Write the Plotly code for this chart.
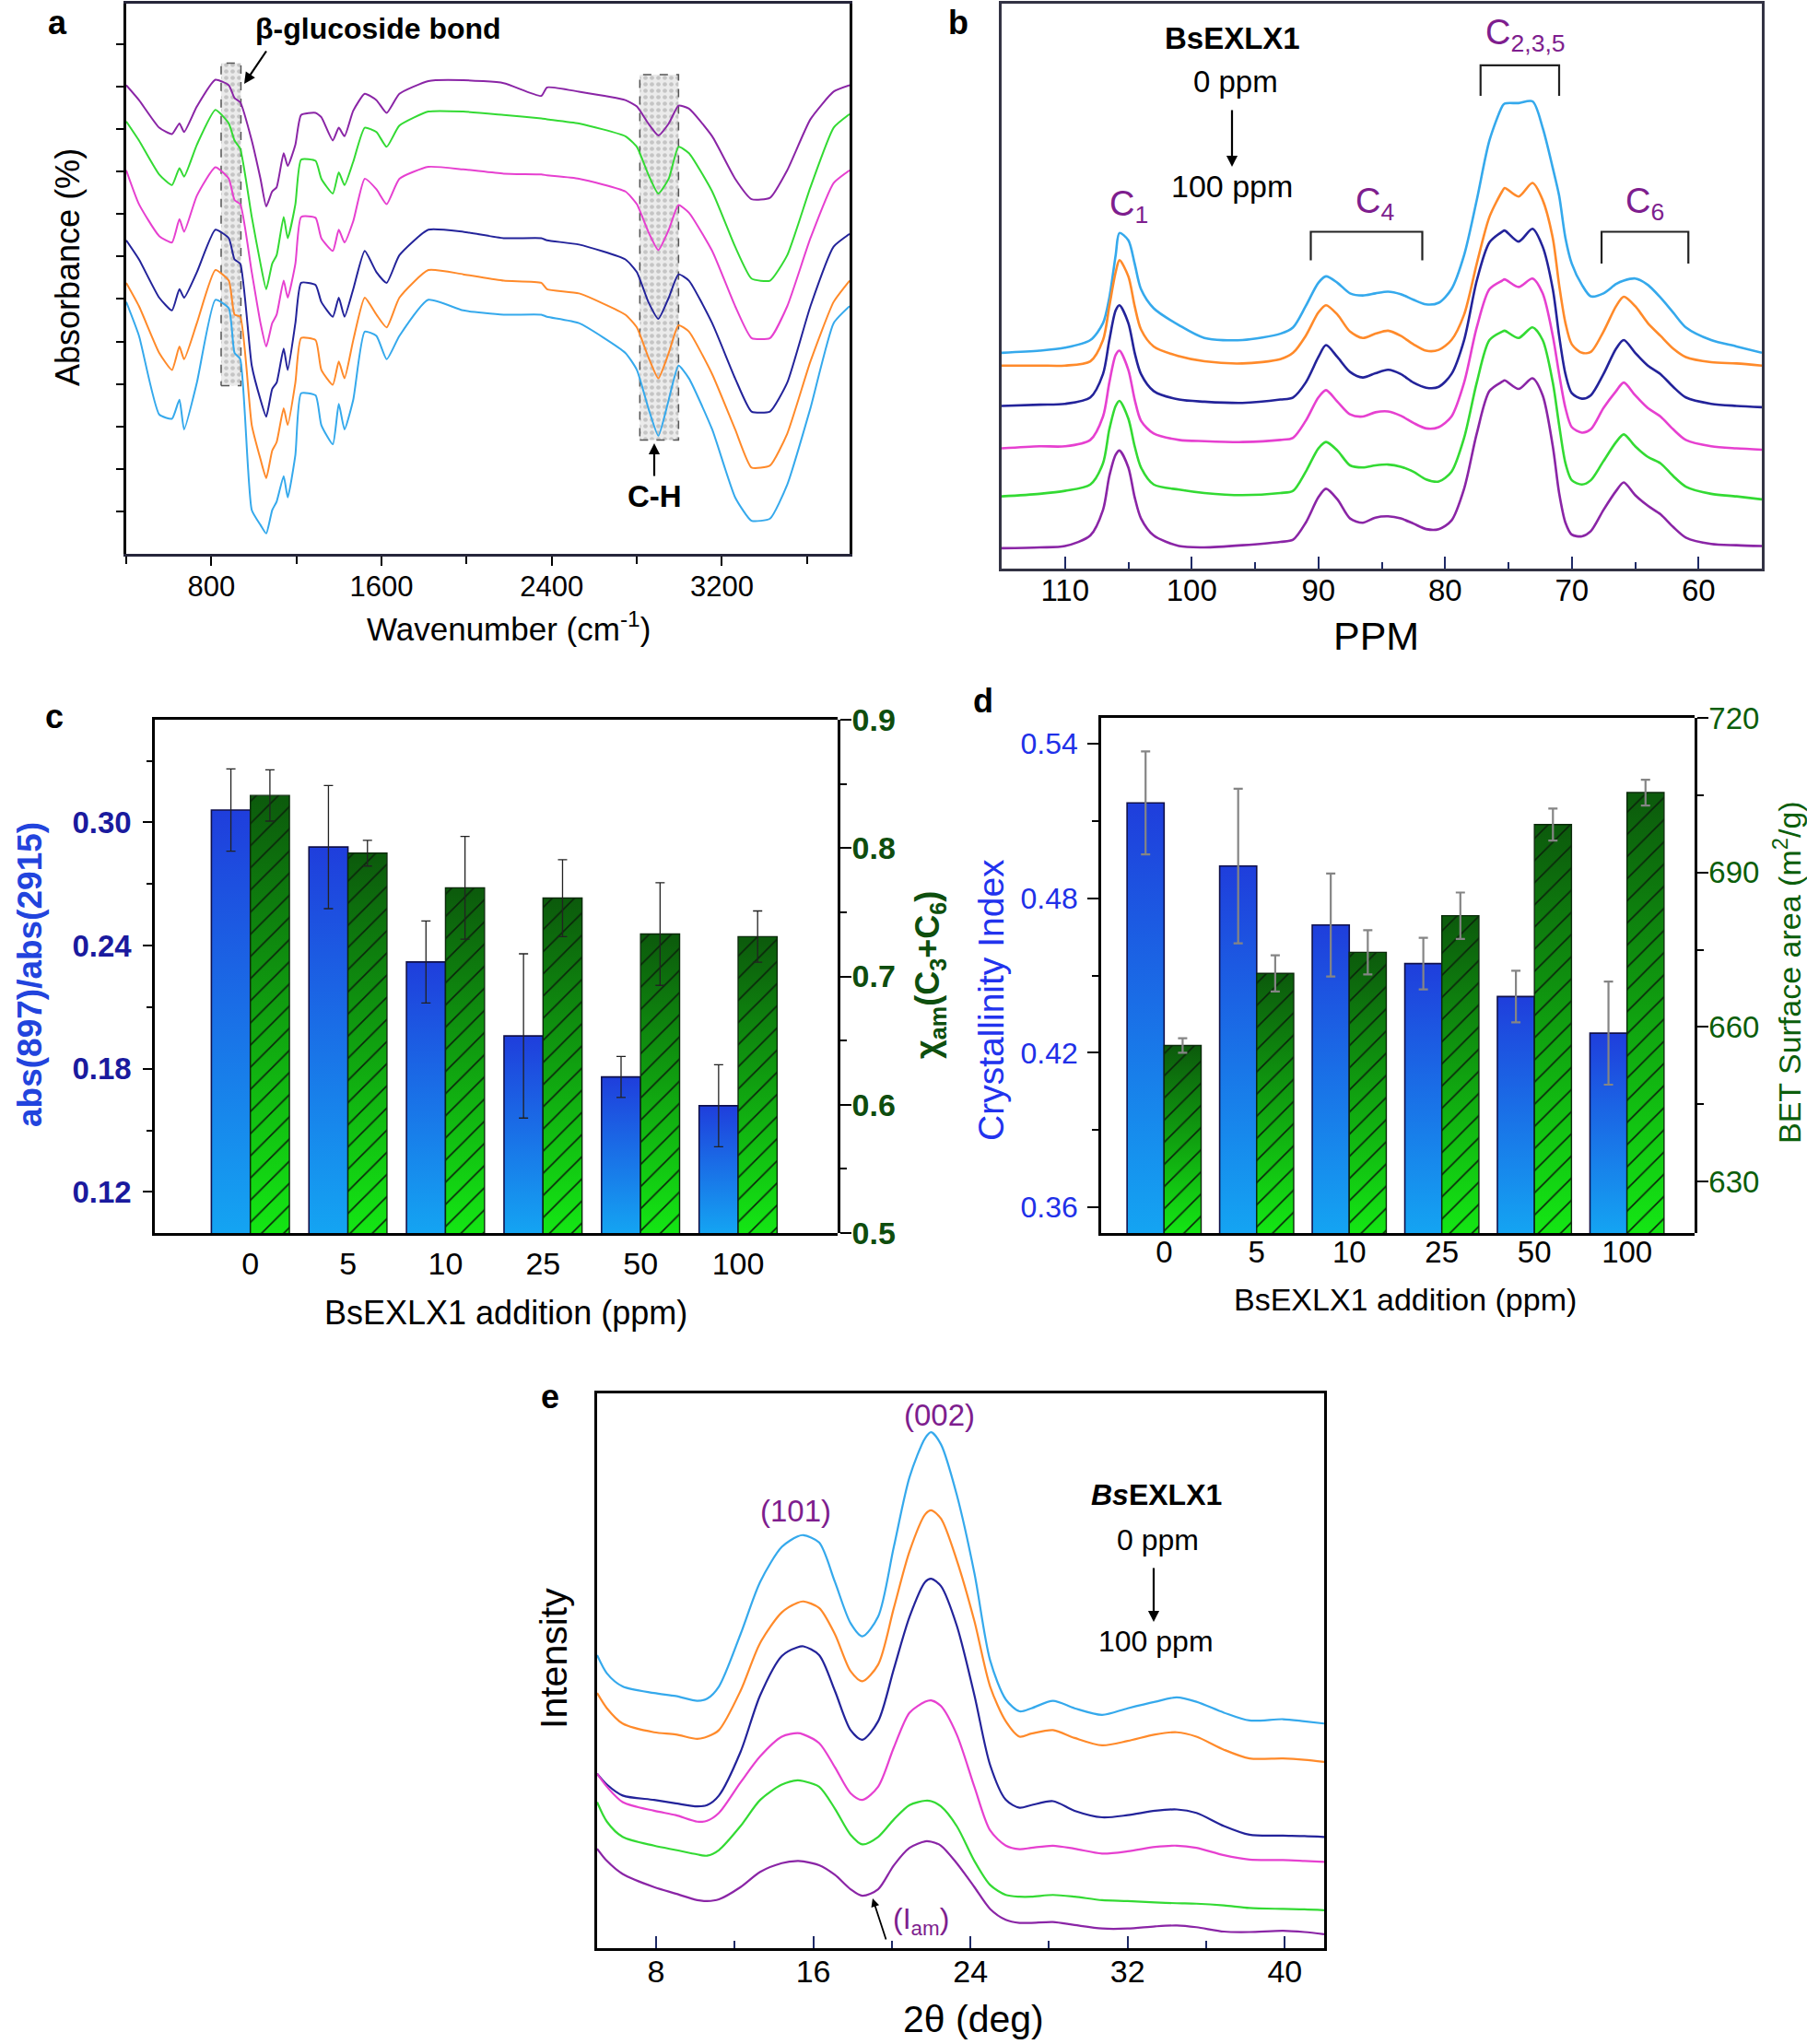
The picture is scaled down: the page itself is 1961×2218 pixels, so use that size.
import base64
import plotly.graph_objects as go

W, H = 1961, 2218
FONT = "Liberation Sans, Arial, Helvetica, sans-serif"

# ---------------- colours per BsEXLX1 dose ----------------
C_0 = "#35A9EC"    # 0 ppm  (light blue)
C_5 = "#FF8A2A"    # 5 ppm  (orange)
C_10 = "#23239A"   # 10 ppm (navy)
C_25 = "#E640D0"   # 25 ppm (magenta)
C_50 = "#33DA33"   # 50 ppm (green)
C_100 = "#8A25A6"  # 100 ppm (purple)
LABEL_PURPLE = "#7E1E8E"

# ---------------- panel a : FTIR ----------------
ftir_wn = [400, 460, 555, 615, 650, 672, 732, 819, 882, 909, 936, 990, 1031, 1058, 1086, 1107, 1140,
           1159, 1195, 1222, 1290, 1317, 1371, 1399, 1426, 1467, 1521, 1576, 1624, 1684, 1820, 1984,
           2174, 2351, 2378, 2528, 2746, 2800, 2854, 2901, 2950, 2996, 3045, 3154, 3262, 3339, 3426,
           3507, 3616, 3725, 3800]
ftir_100 = [11.03, 10.68, 10.03, 9.88, 10.13, 9.93, 10.53, 11.16, 11.03, 10.73, 10.63, 9.73, 8.83, 8.18,
            8.53, 8.63, 9.43, 9.13, 9.63, 10.33, 10.38, 10.28, 9.73, 10.03, 9.83, 10.43, 10.83, 10.68,
            10.38, 10.83, 11.13, 11.15, 11.08, 10.78, 10.98, 10.88, 10.68, 10.53, 10.13, 9.85, 10.13,
            10.55, 10.48, 9.83, 8.83, 8.35, 8.38, 9.03, 10.23, 10.88, 11.03]
ftir_50 = [10.18, 9.73, 8.93, 8.68, 9.08, 8.88, 9.63, 10.45, 10.13, 9.73, 9.53, 7.93, 6.83, 6.23, 6.83,
           7.03, 7.93, 7.43, 8.23, 9.28, 9.25, 8.83, 8.48, 8.98, 8.68, 9.23, 10.03, 9.93, 9.58, 10.08,
           10.41, 10.41, 10.33, 10.25, 10.23, 10.13, 9.83, 9.58, 8.93, 8.48, 8.83, 9.58, 9.43, 8.53,
           7.23, 6.48, 6.43, 7.03, 8.63, 10.03, 10.35]
ftir_25 = [9.03, 8.23, 7.48, 7.33, 7.88, 7.58, 8.43, 9.10, 8.83, 8.33, 8.23, 6.63, 5.43, 4.88, 5.43,
           5.63, 6.43, 6.03, 6.83, 7.93, 7.91, 7.43, 7.13, 7.63, 7.33, 7.83, 8.83, 8.58, 8.23, 8.83,
           9.11, 9.05, 8.95, 8.93, 8.91, 8.83, 8.53, 8.23, 7.58, 7.15, 7.63, 8.21, 8.03, 7.13, 5.83,
           5.08, 5.08, 5.83, 7.43, 8.73, 9.03]
ftir_10 = [7.38, 6.93, 6.03, 5.73, 6.23, 6.03, 6.63, 7.63, 7.43, 6.93, 6.83, 4.43, 3.63, 3.23, 3.88,
           4.03, 4.83, 4.33, 5.43, 6.38, 6.33, 5.93, 5.58, 6.03, 5.58, 6.23, 7.13, 6.63, 6.38, 7.03,
           7.63, 7.58, 7.43, 7.43, 7.38, 7.28, 6.93, 6.63, 5.93, 5.53, 6.03, 6.58, 6.43, 5.43, 4.13,
           3.35, 3.35, 4.03, 5.83, 7.23, 7.53]
ftir_5 = [6.38, 5.83, 4.73, 4.33, 4.88, 4.58, 5.43, 6.68, 6.43, 5.63, 5.58, 3.03, 2.23, 1.78, 2.43,
          2.63, 3.43, 3.03, 4.03, 5.08, 5.03, 4.33, 3.98, 4.53, 4.13, 5.03, 6.03, 5.63, 5.33, 6.03,
          6.68, 6.58, 6.43, 6.38, 6.23, 6.13, 5.63, 5.33, 4.63, 4.13, 4.73, 5.38, 5.23, 4.23, 2.93,
          2.03, 2.08, 2.83, 4.53, 5.93, 6.43]
ftir_0 = [5.93, 5.13, 3.28, 3.18, 3.63, 2.93, 4.03, 5.98, 5.78, 4.73, 4.58, 1.03, 0.68, 0.48, 1.03,
          1.23, 1.83, 1.33, 2.33, 3.78, 3.73, 3.03, 2.58, 3.53, 2.93, 3.63, 5.23, 5.13, 4.58, 5.13,
          5.98, 5.73, 5.63, 5.63, 5.58, 5.43, 4.73, 4.33, 3.43, 2.78, 3.63, 4.43, 4.13, 2.93, 1.33,
          0.78, 0.83, 1.63, 3.43, 5.43, 5.83]
beta_box = [846, 939, 3.96, 11.55]     # wavenumber x0, x1, y0, y1
ch_box = [2814, 2996, 2.68, 11.28]

# ---------------- panel b : 13C NMR ----------------
nmr_ppm = [115, 112, 110, 108, 107, 106.5, 106, 105.7, 105, 104.5, 104, 103, 101, 99, 96, 93, 92, 91,
           90, 89.4, 88.5, 87.5, 86.5, 85.5, 84.5, 83.5, 82.5, 81.5, 80.5, 79.5, 78.5, 77.5, 76.5,
           75.5, 75.3, 74.2, 73.1, 72.3, 71.5, 71, 70.5, 70, 69.2, 68.5, 67.5, 66.5, 65.9, 65, 64, 63,
           62, 61, 59, 57, 55]
nmr_0 = [5.08, 5.13, 5.20, 5.38, 5.78, 6.38, 7.38, 7.90, 7.73, 7.18, 6.58, 6.13, 5.73, 5.43, 5.38,
         5.53, 5.68, 6.18, 6.73, 6.88, 6.73, 6.48, 6.43, 6.48, 6.52, 6.46, 6.33, 6.22, 6.26, 6.58,
         7.38, 8.68, 10.08, 10.88, 10.95, 10.96, 11.00, 10.38, 9.43, 8.78, 7.78, 7.18, 6.68, 6.41,
         6.48, 6.70, 6.78, 6.83, 6.68, 6.38, 6.03, 5.68, 5.38, 5.23, 5.08]
nmr_5 = [4.78, 4.78, 4.78, 4.88, 5.38, 6.18, 6.98, 7.26, 6.88, 6.18, 5.63, 5.23, 5.00, 4.88, 4.83,
         4.93, 5.08, 5.48, 6.03, 6.20, 5.98, 5.58, 5.43, 5.53, 5.60, 5.48, 5.28, 5.13, 5.15, 5.38,
         5.98, 7.18, 8.28, 8.88, 8.96, 8.76, 9.08, 8.68, 7.78, 6.68, 5.78, 5.28, 5.08, 5.10, 5.58,
         6.18, 6.40, 6.18, 5.78, 5.48, 5.18, 4.98, 4.86, 4.83, 4.78]
nmr_10 = [3.83, 3.86, 3.88, 4.03, 4.58, 5.38, 6.08, 6.20, 5.78, 5.08, 4.58, 4.18, 3.98, 3.93, 3.90,
          3.98, 4.03, 4.38, 4.98, 5.26, 4.98, 4.63, 4.50, 4.60, 4.68, 4.58, 4.38, 4.26, 4.28, 4.58,
          5.38, 6.78, 7.68, 7.93, 7.96, 7.70, 8.00, 7.58, 6.58, 5.48, 4.58, 4.13, 4.00, 4.08, 4.58,
          5.18, 5.38, 5.08, 4.78, 4.58, 4.28, 4.03, 3.88, 3.83, 3.80]
nmr_25 = [2.83, 2.88, 2.88, 3.03, 3.58, 4.38, 5.03, 5.13, 4.68, 3.98, 3.48, 3.18, 3.03, 3.00, 2.98,
          3.03, 3.08, 3.48, 4.03, 4.20, 3.93, 3.63, 3.58, 3.68, 3.70, 3.60, 3.43, 3.30, 3.33, 3.58,
          4.38, 5.68, 6.58, 6.78, 6.81, 6.63, 6.83, 6.48, 5.48, 4.58, 3.78, 3.33, 3.20, 3.28, 3.78,
          4.18, 4.38, 4.08, 3.78, 3.58, 3.28, 3.03, 2.88, 2.83, 2.80]
nmr_50 = [1.70, 1.76, 1.83, 1.98, 2.48, 3.28, 3.83, 3.95, 3.53, 2.88, 2.38, 1.98, 1.86, 1.78, 1.73,
          1.78, 1.83, 2.28, 2.83, 2.98, 2.78, 2.43, 2.38, 2.43, 2.45, 2.40, 2.28, 2.10, 2.05, 2.28,
          3.08, 4.38, 5.38, 5.58, 5.60, 5.43, 5.68, 5.38, 4.38, 3.38, 2.48, 2.08, 1.98, 2.08, 2.53,
          2.98, 3.16, 2.88, 2.63, 2.48, 2.18, 1.93, 1.76, 1.70, 1.63]
nmr_100 = [0.48, 0.50, 0.53, 0.78, 1.38, 2.18, 2.68, 2.78, 2.38, 1.68, 1.18, 0.78, 0.53, 0.50, 0.55,
           0.63, 0.68, 1.08, 1.68, 1.88, 1.63, 1.18, 1.08, 1.20, 1.23, 1.18, 1.06, 0.93, 0.93, 1.13,
           1.88, 3.18, 4.18, 4.40, 4.43, 4.23, 4.48, 4.08, 2.88, 1.78, 1.08, 0.80, 0.76, 0.88, 1.38,
           1.83, 2.03, 1.73, 1.48, 1.28, 0.98, 0.73, 0.58, 0.55, 0.53]
c4_bracket = [90.6, 81.8, 7.93, 7.26]      # ppm left, ppm right, top, leg end
c235_bracket = [77.2, 71.0, 11.85, 11.13]
c6_bracket = [67.65, 60.8, 7.93, 7.18]

# ---------------- panels c, d : bars ----------------
doses = ["0", "5", "10", "25", "50", "100"]
ratio_897_2915 = [0.306, 0.288, 0.232, 0.196, 0.176, 0.162]
ratio_err = [0.020, 0.030, 0.020, 0.040, 0.010, 0.020]
chi_am = [0.841, 0.796, 0.769, 0.761, 0.733, 0.731]
chi_am_err = [0.020, 0.010, 0.040, 0.030, 0.040, 0.020]
cryst_index = [0.517, 0.4925, 0.4696, 0.4546, 0.4418, 0.4276]
cryst_err = [0.020, 0.030, 0.020, 0.010, 0.010, 0.020]
bet_area = [656.4, 670.4, 674.5, 681.6, 699.3, 705.5]
bet_err = [1.4, 3.5, 4.3, 4.5, 3.1, 2.5]

# ---------------- panel e : XRD ----------------
xrd_2theta = [5.0, 5.5, 6.3, 7.9, 9.0, 10.1, 10.6, 11.2, 12.3, 13.3, 14.4, 15.2, 15.5, 16.3, 17.1,
              17.9, 18.5, 19.3, 20.1, 20.9, 21.7, 22.0, 22.5, 23.3, 24.2, 25.0, 25.8, 26.5, 27.1,
              28.2, 29.3, 30.7, 32.0, 33.4, 34.5, 35.5, 36.9, 38.2, 39.9, 41.0, 42.0]
xrd_0 = [6.72, 6.30, 6.00, 5.85, 5.78, 5.67, 5.72, 6.00, 7.20, 8.40, 9.20, 9.44, 9.47, 9.30, 8.40,
         7.45, 7.15, 7.60, 9.20, 10.80, 11.70, 11.83, 11.55, 10.40, 8.60, 6.60, 5.70, 5.43, 5.50,
         5.67, 5.50, 5.35, 5.50, 5.65, 5.75, 5.65, 5.40, 5.22, 5.25, 5.20, 5.15]
xrd_5 = [5.85, 5.50, 5.15, 4.95, 4.90, 4.80, 4.85, 5.00, 5.90, 7.00, 7.70, 7.92, 7.95, 7.80, 7.20,
         6.35, 6.12, 6.50, 7.80, 9.10, 9.95, 10.04, 9.85, 8.90, 7.50, 6.00, 5.20, 4.85, 4.92, 5.00,
         4.82, 4.65, 4.75, 4.90, 4.95, 4.85, 4.55, 4.35, 4.35, 4.32, 4.27]
xrd_10 = [4.00, 3.75, 3.50, 3.40, 3.32, 3.25, 3.28, 3.50, 4.50, 5.80, 6.70, 6.90, 6.92, 6.72, 5.90,
          5.00, 4.78, 5.20, 6.40, 7.60, 8.40, 8.47, 8.30, 7.40, 5.80, 4.20, 3.40, 3.22, 3.28, 3.37,
          3.15, 3.00, 3.05, 3.15, 3.18, 3.10, 2.80, 2.60, 2.58, 2.57, 2.55]
xrd_25 = [4.00, 3.70, 3.35, 3.15, 3.05, 2.90, 2.92, 3.10, 3.80, 4.40, 4.85, 4.93, 4.90, 4.70, 4.15,
          3.55, 3.40, 3.70, 4.60, 5.40, 5.65, 5.68, 5.55, 4.90, 3.70, 2.70, 2.35, 2.27, 2.30, 2.35,
          2.28, 2.17, 2.22, 2.32, 2.35, 2.30, 2.13, 2.03, 2.02, 2.00, 1.98]
xrd_50 = [3.35, 2.90, 2.55, 2.35, 2.25, 2.15, 2.12, 2.25, 2.80, 3.40, 3.75, 3.85, 3.83, 3.70, 3.20,
          2.60, 2.38, 2.55, 2.95, 3.28, 3.38, 3.37, 3.25, 2.80, 2.00, 1.45, 1.22, 1.18, 1.18, 1.22,
          1.18, 1.10, 1.08, 1.05, 1.03, 1.02, 0.98, 0.92, 0.90, 0.89, 0.87]
xrd_100 = [2.28, 2.00, 1.70, 1.40, 1.25, 1.10, 1.08, 1.12, 1.40, 1.75, 1.95, 2.00, 1.99, 1.90, 1.68,
           1.35, 1.20, 1.35, 1.90, 2.30, 2.45, 2.44, 2.35, 1.95, 1.40, 0.90, 0.65, 0.58, 0.58, 0.60,
           0.53, 0.45, 0.45, 0.50, 0.52, 0.48, 0.38, 0.37, 0.40, 0.37, 0.32]


# ---------------- helpers ----------------
def dom_x(x0, x1):
    return [x0 / W, x1 / W]


def dom_y(top, bottom):
    return [1 - bottom / H, 1 - top / H]


def px(x):
    return x / W


def py(y):
    return 1 - y / H


def ann(text, x, y, size, color="black", angle=0, xanchor="center", yanchor="middle"):
    return dict(text=text, x=px(x), y=py(y), xref="paper", yref="paper", showarrow=False,
                font=dict(family=FONT, size=size, color=color), textangle=angle,
                xanchor=xanchor, yanchor=yanchor)


def arrow(xt, yt, xh, yh, width=2.2, size=1.1):
    return dict(text="", x=px(xh), y=py(yh), xref="paper", yref="paper", ax=xt - xh, ay=yt - yh,
                showarrow=True, arrowhead=2, arrowsize=size, arrowwidth=width, arrowcolor="black")


def gradient_svg(c_top, c_bottom):
    svg = ("<svg xmlns='http://www.w3.org/2000/svg' width='20' height='200' viewBox='0 0 20 200' "
           "preserveAspectRatio='none'><defs><linearGradient id='g' x1='0' y1='0' x2='0' y2='1'>"
           f"<stop offset='0' stop-color='{c_top}'/><stop offset='1' stop-color='{c_bottom}'/>"
           "</linearGradient></defs><rect x='0' y='0' width='20' height='200' fill='url(#g)'/></svg>")
    return "data:image/svg+xml;base64," + base64.b64encode(svg.encode()).decode()


fig = go.Figure()

# ---------------- panel a traces ----------------
for box in (beta_box, ch_box):
    x0, x1, y0, y1 = box
    fig.add_trace(go.Scatter(
        x=[x0, x1, x1, x0, x0], y=[y0, y0, y1, y1, y0], xaxis="x", yaxis="y", mode="lines",
        fill="toself", fillcolor="rgba(205,205,205,0.55)",
        fillpattern=dict(shape=".", fgcolor="rgba(150,150,150,0.9)", bgcolor="rgba(215,215,215,0.5)",
                         size=7, solidity=0.35),
        line=dict(color="#555555", width=1.5, dash="dash"), hoverinfo="skip", showlegend=False))

for ys, col in ((ftir_100, C_100), (ftir_50, C_50), (ftir_25, C_25),
                (ftir_10, C_10), (ftir_5, C_5), (ftir_0, C_0)):
    fig.add_trace(go.Scatter(x=ftir_wn, y=ys, xaxis="x", yaxis="y", mode="lines",
                             line=dict(color=col, width=2, shape="spline", smoothing=0.5),
                             showlegend=False))

# ---------------- panel b traces ----------------
for ys, col in ((nmr_0, C_0), (nmr_5, C_5), (nmr_10, C_10),
                (nmr_25, C_25), (nmr_50, C_50), (nmr_100, C_100)):
    fig.add_trace(go.Scatter(x=nmr_ppm, y=ys, xaxis="x2", yaxis="y2", mode="lines",
                             line=dict(color=col, width=2.6, shape="spline", smoothing=0.8),
                             showlegend=False))

# ---------------- panels c, d bars ----------------
BLUE_SRC = gradient_svg("#1F3EDC", "#14A4F2")
GREEN_SRC = gradient_svg("#0C5A0C", "#14E614")
images = []


def bar_panel(xa_left, ya_left, xa_right, ya_right, left_vals, left_err, left_base,
              right_vals, right_err, right_base, err_color, err_thick):
    n = len(doses)
    for i in range(n):
        images.append(dict(source=BLUE_SRC, xref=xa_left, yref=ya_left, x=i - 0.4,
                           y=left_vals[i], sizex=0.4, sizey=left_vals[i] - left_base,
                           xanchor="left", yanchor="top", sizing="stretch", layer="below"))
        images.append(dict(source=GREEN_SRC, xref=xa_right, yref=ya_right, x=i,
                           y=right_vals[i], sizex=0.4, sizey=right_vals[i] - right_base,
                           xanchor="left", yanchor="top", sizing="stretch", layer="below"))
    fig.add_trace(go.Bar(
        x=[i - 0.2 for i in range(n)], y=left_vals, width=0.4, xaxis=xa_left, yaxis=ya_left,
        marker=dict(color="rgba(0,0,0,0)", line=dict(color="#10104a", width=1.6)),
        error_y=dict(type="data", array=left_err, color=err_color, thickness=err_thick, width=5),
        showlegend=False))
    fig.add_trace(go.Bar(
        x=[i + 0.2 for i in range(n)], y=right_vals, width=0.4, xaxis=xa_right, yaxis=ya_right,
        marker=dict(color="rgba(0,0,0,0)", line=dict(color="#0b2a0b", width=1.4),
                    pattern=dict(shape="/", fgcolor="#0a260a", bgcolor="rgba(0,0,0,0)",
                                 size=17, solidity=0.1, fillmode="replace")),
        error_y=dict(type="data", array=right_err, color=err_color, thickness=err_thick, width=5),
        showlegend=False))


bar_panel("x3", "y3", "x6", "y4", ratio_897_2915, ratio_err, 0.10, chi_am, chi_am_err, 0.5,
          "#222222", 1.3)
bar_panel("x4", "y5", "x7", "y6", cryst_index, cryst_err, 0.35, bet_area, bet_err, 620,
          "#858585", 2.2)

# ---------------- panel e traces ----------------
for ys, col in ((xrd_0, C_0), (xrd_5, C_5), (xrd_10, C_10),
                (xrd_25, C_25), (xrd_50, C_50), (xrd_100, C_100)):
    fig.add_trace(go.Scatter(x=xrd_2theta, y=ys, xaxis="x5", yaxis="y7", mode="lines",
                             line=dict(color=col, width=2.2, shape="spline", smoothing=0.8),
                             showlegend=False))

# ---------------- axes ----------------
base_ax = dict(showgrid=False, zeroline=False, showline=True, linecolor="black", linewidth=2.5,
               tickcolor="black", tickwidth=2, automargin=False)

C_DOM_X, C_DOM_Y = dom_x(168, 909), dom_y(781, 1338)
D_DOM_X, D_DOM_Y = dom_x(1195, 1839), dom_y(779, 1338)
C_XRANGE, D_XRANGE = [-0.98, 6.02], [-0.68, 5.73]

fig.update_layout(
    xaxis=dict(base_ax, domain=dom_x(137, 922), anchor="y", range=[400, 3800],
               tickvals=[800, 1600, 2400, 3200], ticks="outside", ticklen=10, mirror=True,
               linecolor="#26263a", tickfont=dict(family=FONT, size=31, color="black"),
               ticklabelstandoff=-4,
               minor=dict(tickvals=[400, 1200, 2000, 2800, 3600], ticks="outside", ticklen=8,
                          tickwidth=2, tickcolor="black")),
    yaxis=dict(base_ax, domain=dom_y(4, 601), anchor="x", range=[0, 12.95],
               tickvals=list(range(1, 13)), ticks="outside", ticklen=8, showticklabels=False,
               mirror=True),
    xaxis2=dict(base_ax, domain=dom_x(1087, 1912), anchor="y2", range=[115, 55],
                tickvals=[110, 100, 90, 80, 70, 60], ticks="inside", ticklen=13, mirror=True,
                linecolor="#333344", tickcolor="#1e2a66", ticklabelstandoff=-7,
                tickfont=dict(family=FONT, size=33, color="black"),
                minor=dict(tickvals=[105, 95, 85, 75, 65], ticks="inside", ticklen=7, tickwidth=2,
                           tickcolor="#1e2a66")),
    yaxis2=dict(base_ax, domain=dom_y(4, 617), anchor="x2", range=[0, 13.3], showticklabels=False,
                ticks="", mirror=True, linecolor="#333344"),
    # panel c
    xaxis3=dict(base_ax, domain=C_DOM_X, anchor="y3", range=C_XRANGE,
                tickvals=list(range(6)), ticktext=doses, ticks="", mirror=True, ticklabelstandoff=1,
                tickfont=dict(family=FONT, size=34, color="black")),
    xaxis6=dict(base_ax, domain=C_DOM_X, anchor="y4", range=C_XRANGE, visible=False),
    yaxis3=dict(base_ax, domain=C_DOM_Y, anchor="x3", range=[0.10, 0.35],
                tickvals=[0.12, 0.18, 0.24, 0.30],
                ticktext=["<b>0.12</b>", "<b>0.18</b>", "<b>0.24</b>", "<b>0.30</b>"],
                ticks="outside", ticklen=10, tickfont=dict(family=FONT, size=33, color="#1a1a9e"),
                ticklabelstandoff=6,
                minor=dict(tickvals=[0.15, 0.21, 0.27, 0.33], ticks="outside", ticklen=6,
                           tickwidth=2, tickcolor="black")),
    yaxis4=dict(base_ax, domain=C_DOM_Y, side="right", anchor="x6", range=[0.5, 0.9],
                tickvals=[0.5, 0.6, 0.7, 0.8, 0.9],
                ticktext=["<b>0.5</b>", "<b>0.6</b>", "<b>0.7</b>", "<b>0.8</b>", "<b>0.9</b>"],
                ticks="outside", ticklen=12, tickfont=dict(family=FONT, size=34, color="#0e4d0e"),
                ticklabelstandoff=-6,
                minor=dict(tickvals=[0.55, 0.65, 0.75, 0.85], ticks="outside", ticklen=7,
                           tickwidth=2, tickcolor="black")),
    # panel d
    xaxis4=dict(base_ax, domain=D_DOM_X, anchor="y5", range=D_XRANGE,
                tickvals=list(range(6)), ticktext=doses, ticks="", mirror=True, linewidth=3,
                ticklabelstandoff=-11, tickfont=dict(family=FONT, size=33, color="black")),
    xaxis7=dict(base_ax, domain=D_DOM_X, anchor="y6", range=D_XRANGE, visible=False),
    yaxis5=dict(base_ax, domain=D_DOM_Y, anchor="x4", range=[0.35, 0.55],
                tickvals=[0.36, 0.42, 0.48, 0.54], ticktext=["0.36", "0.42", "0.48", "0.54"],
                ticks="outside", ticklen=12, tickfont=dict(family=FONT, size=32, color="#2030e8"),
                ticklabelstandoff=4,
                minor=dict(tickvals=[0.39, 0.45, 0.51], ticks="outside", ticklen=7, tickwidth=2,
                           tickcolor="black")),
    yaxis6=dict(base_ax, domain=D_DOM_Y, side="right", anchor="x7", range=[620, 720],
                tickvals=[630, 660, 690, 720], ticks="outside", ticklen=12,
                tickfont=dict(family=FONT, size=33, color="#0b5e0b"), ticklabelstandoff=-6,
                minor=dict(tickvals=[645, 675, 705], ticks="outside", ticklen=7, tickwidth=2,
                           tickcolor="black")),
    # panel e
    xaxis5=dict(base_ax, domain=dom_x(648, 1437), anchor="y7", range=[5, 42],
                tickvals=[8, 16, 24, 32, 40], ticks="inside", ticklen=13, mirror=True,
                tickcolor="#1e2a66", tickfont=dict(family=FONT, size=34, color="black"),
                ticklabelstandoff=-7,
                minor=dict(tickvals=[12, 20, 28, 36], ticks="inside", ticklen=8, tickwidth=2,
                           tickcolor="#1e2a66")),
    yaxis7=dict(base_ax, domain=dom_y(1512, 2114), anchor="x5", range=[0, 12.72],
                showticklabels=False, ticks="", mirror=True),
)

# ---------------- brackets (panel b) ----------------
shapes = []
for x0, x1, ytop, yleg in (c4_bracket, c235_bracket, c6_bracket):
    shapes.append(dict(type="path", xref="x2", yref="y2",
                       path=f"M {x0},{yleg} L {x0},{ytop} L {x1},{ytop} L {x1},{yleg}",
                       line=dict(color="#222222", width=2.2)))

# ---------------- annotations ----------------
annotations = [
    # panel letters
    ann("<b>a</b>", 62, 25, 36),
    ann("<b>b</b>", 1040, 25, 36),
    ann("<b>c</b>", 59, 777, 36),
    ann("<b>d</b>", 1067, 761, 36),
    ann("<b>e</b>", 597, 1515, 36),
    # panel a
    ann("Absorbance (%)", 74, 290, 36, angle=-90),
    ann("Wavenumber (cm<sup>-1</sup>)", 552, 680, 35),
    ann("<b>β-glucoside bond</b>", 410, 31, 32),
    arrow(290, 54, 265, 91),
    ann("<b>C-H</b>", 710, 539, 33),
    arrow(710, 518, 710, 481),
    # panel b
    ann("PPM", 1493, 690, 43),
    ann("<b>BsEXLX1</b>", 1337, 42, 33),
    ann("0 ppm", 1341, 89, 33),
    arrow(1337, 118, 1337, 181),
    ann("100 ppm", 1337, 202, 34),
    ann("C<sub>1</sub>", 1225, 224, 38, color=LABEL_PURPLE),
    ann("C<sub>4</sub>", 1492, 221, 38, color=LABEL_PURPLE),
    ann("C<sub>2,3,5</sub>", 1655, 38, 38, color=LABEL_PURPLE),
    ann("C<sub>6</sub>", 1785, 221, 38, color=LABEL_PURPLE),
    # panel c
    ann("<b>abs(897)/abs(2915)</b>", 32, 1058, 37, color="#2244dd", angle=-90),
    ann("<b>χ<sub>am</sub>(C<sub>3</sub>+C<sub>6</sub>)</b>", 1009, 1058, 36, color="#0e4f0e",
        angle=-90),
    ann("BsEXLX1 addition (ppm)", 549, 1424, 36),
    # panel d
    ann("Crystallinity Index", 1075, 1085, 39, color="#2233ee", angle=-90),
    ann("BET Surface area (m<sup>2</sup>/g)", 1939, 1055, 34, color="#0b5e0b", angle=-90),
    ann("BsEXLX1 addition (ppm)", 1525, 1410, 34),
    # panel e
    ann("Intensity", 601, 1800, 41, angle=-90),
    ann("2θ (deg)", 1056, 2191, 41),
    ann("(002)", 1019, 1535, 33, color=LABEL_PURPLE),
    ann("(101)", 863, 1639, 33, color=LABEL_PURPLE),
    ann("<b><i>Bs</i>EXLX1</b>", 1255, 1622, 32),
    ann("0 ppm", 1256, 1671, 32),
    arrow(1252, 1700, 1252, 1760),
    ann("100 ppm", 1254, 1781, 32),
    ann("(I<sub>am</sub>)", 999, 2084, 32, color=LABEL_PURPLE),
    arrow(962, 2106, 947, 2060, width=1.8, size=1.0),
]

fig.update_layout(
    width=W, height=H, margin=dict(l=0, r=0, t=0, b=0, pad=0, autoexpand=False),
    paper_bgcolor="white", plot_bgcolor="rgba(0,0,0,0)", showlegend=False,
    font=dict(family=FONT, color="black"),
    shapes=shapes, annotations=annotations, images=images,
)

fig.write_html("out.html", config={"displayModeBar": False},
               post_script="document.body.style.margin='0';")
